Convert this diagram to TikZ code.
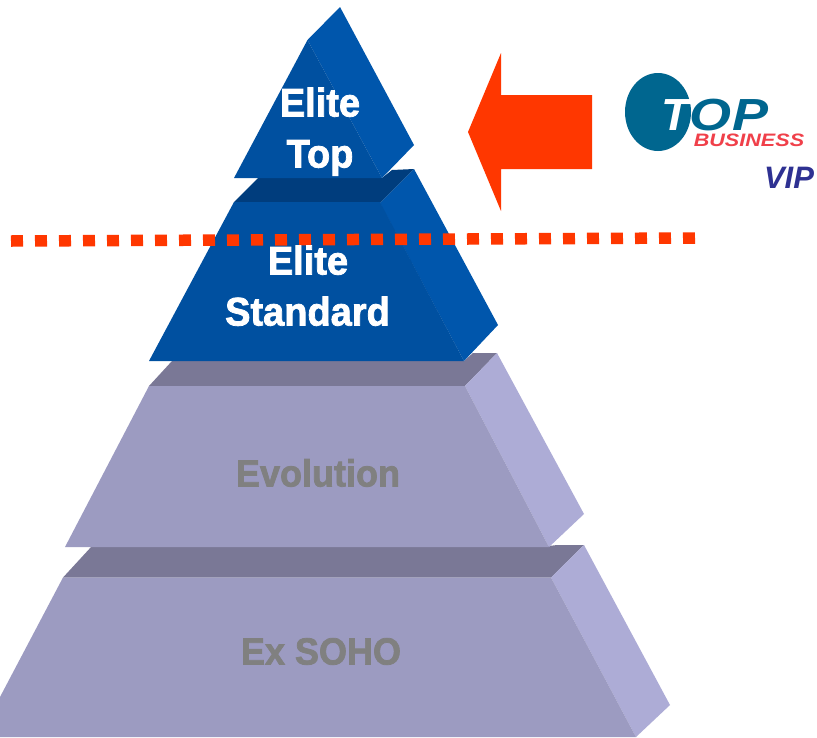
\documentclass[tikz,border=0pt]{standalone}
\usepackage{fontspec}
\setmainfont{Liberation Sans}
\newfontfamily\heavyfont{Liberation Sans}[BoldFeatures={FakeBold=2}]
\definecolor{bluefront}{HTML}{0050A0}
\definecolor{blueside}{HTML}{0056AC}
\definecolor{bluetop}{HTML}{003D7D}
\definecolor{lilacfront}{HTML}{9C9BC1}
\definecolor{lilacside}{HTML}{ADACD6}
\definecolor{lilactop}{HTML}{7A7896}
\definecolor{grayword}{HTML}{808080}
\definecolor{redmark}{HTML}{FF3700}
\definecolor{logoblue}{HTML}{00668F}
\definecolor{logored}{HTML}{F0404A}
\definecolor{vipblue}{HTML}{2E3192}
\tikzset{
  face/.style={line join=round},
  bigword/.style={font=\heavyfont\fontsize{38}{38}\selectfont\bfseries,text=white,inner sep=0pt,anchor=base},
  paleword/.style={font=\heavyfont\fontsize{36}{36}\selectfont\bfseries,text=grayword,inner sep=0pt,anchor=base},
}
\begin{document}
\begin{tikzpicture}[x=1pt,y=-1pt]
\clip (0,0) rectangle (817,737);
\fill[white] (0,0) rectangle (817,737);
% Ex SOHO
\fill[lilactop,face] (63,577.5) -- (92,546) -- (549,546) -- (557,545) -- (584,545) -- (551,577.5) -- cycle;
\fill[lilacside,face] (551,577.5) -- (584,545) -- (670,705) -- (636,737) -- cycle;
\fill[lilacfront,face] (63,577.5) -- (551,577.5) -- (636,737) -- (0,737) -- (0,697) -- cycle;
% Evolution
\fill[lilactop,face] (149,386) -- (172,361) -- (464,361) -- (473,353) -- (497,353) -- (465,386) -- cycle;
\fill[lilacside,face] (465,386) -- (497,353) -- (584,514) -- (549,547) -- cycle;
\fill[lilacfront,face] (149,386) -- (465,386) -- (549,547) -- (65,547) -- cycle;
% Elite Standard
\fill[bluetop,face] (234,202) -- (258,178) -- (382,178) -- (392,170) -- (414,169) -- (380,203) -- cycle;
\fill[blueside,face] (380,203) -- (414,169) -- (498,325) -- (464,361) -- cycle;
\fill[bluefront,face] (234,202) -- (380,202) -- (464,361) -- (149,361) -- cycle;
% Elite Top
\fill[blueside,face] (307.5,40) -- (340,7) -- (414,145) -- (382,178) -- cycle;
\fill[bluefront,face] (307.5,40) -- (382,178) -- (234,178) -- cycle;
% Arrow
\fill[redmark] (468,132) -- (501,53) -- (501,95) -- (592,95) -- (592,169) -- (501,169) -- (501,211) -- cycle;
% Dotted line
\coordinate (dotL) at (11,241);
\coordinate (dotR) at (695,238);
\draw[redmark,line width=11.5pt,dash pattern=on 12pt off 12pt] (dotL) -- (dotR);
% Labels
\node[bigword] (eliteA) at (320,116.5) {\scalebox{1}[1.05]{Elite}};
\node[bigword] (topA) at (320,167.5) {\scalebox{1}[1.05]{Top}};
\node[bigword] (eliteB) at (308,274.5) {\scalebox{1}[1.05]{Elite}};
\node[bigword] (standard) at (307.5,325.5) {\scalebox{1}[1.05]{Standard}};
\node[paleword] (evolution) at (318,486.5) {\scalebox{1}[1.05]{Evolution}};
\node[paleword] (soho) at (321,664.5) {\scalebox{1}[1.05]{Ex SOHO}};
% Logo
\fill[logoblue] (658,112) ellipse [x radius=33, y radius=39];
\node[inner sep=0pt,anchor=base,text=logoblue] (logoOP) at (729,130)
  {\heavyfont\fontsize{45}{45}\selectfont\bfseries\itshape\scalebox{1.2}[1]{OP}};
\node[inner sep=0pt,anchor=base,text=white] (logoT) at (676,130)
  {\heavyfont\fontsize{45}{45}\selectfont\bfseries\itshape\scalebox{1.02}[1]{T}};
\node[inner sep=0pt,anchor=base,text=logored] (logoB) at (749,146)
  {\heavyfont\fontsize{18}{18}\selectfont\bfseries\itshape\scalebox{1.2}[1]{BUSINESS}};
\node[inner sep=0pt,anchor=base,text=vipblue] (vip) at (789,188)
  {\fontsize{31}{31}\selectfont\bfseries\itshape VIP};
\end{tikzpicture}
\end{document}
